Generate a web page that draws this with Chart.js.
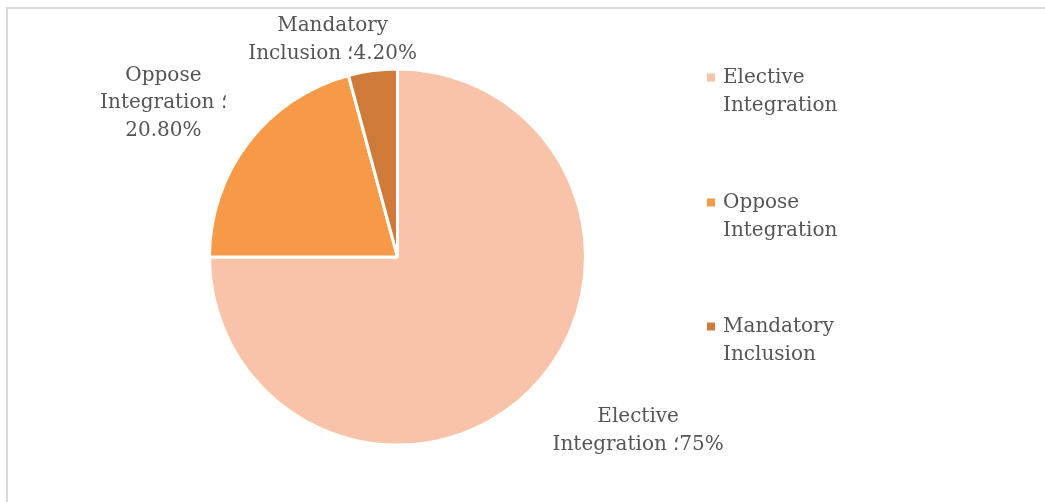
<!DOCTYPE html>
<html lang="en">
<head>
    <meta charset="UTF-8">
    <title>Integration Preference</title>
    <script src="https://cdn.jsdelivr.net/npm/chart.js"></script>
    <style>
        html, body { margin: 0; padding: 0; background: #fff; overflow: hidden; }
        .frame {
            position: absolute; left: 6px; top: 7px; width: 1100px; height: 600px;
            border-left: 2px solid #d9d9d9; border-top: 2px solid #d9d9d9;
        }
        #wrap { position: absolute; left: 0; top: 0; width: 1045px; height: 502px; }
    </style>
</head>
<body>
    <div class="frame"></div>
    <div id="wrap"><canvas id="pieChart"></canvas></div>

    <script>
        const categories = ['Elective Integration', 'Oppose Integration', 'Mandatory Inclusion'];
        const legendLines = [['Elective', 'Integration'], ['Oppose', 'Integration'], ['Mandatory', 'Inclusion']];
        const shares = [75, 20.8, 4.2];
        const sliceColors = ['#F8C3A8', '#F79A48', '#D07A39'];
        // value sits on its own line for the second label
        const valueOwnLine = [false, true, false];
        // label centre, in units of the pie radius from its centre
        const labelOffsets = [[1.28, 0.925], [-1.245, -0.82], [-0.345, -1.155]];

        const FONT = '20px "DejaVu Serif", serif';
        const TEXT = '#555555';
        const LINE_H = 27.5;

        function fmt(v) {
            return Number.isInteger(v) ? v + '%' : v.toFixed(2) + '%';
        }

        function labelText(i) {
            const lines = legendLines[i].slice();
            const sep = '\u061B\u200E';
            if (valueOwnLine[i]) {
                lines[lines.length - 1] += ' ' + sep;
                lines.push(fmt(shares[i]));
            } else {
                lines[lines.length - 1] += ' ' + sep + fmt(shares[i]);
            }
            return lines;
        }

        const outsideLabels = {
            id: 'outsideLabels',
            afterDraw(chart) {
                const ctx = chart.ctx;
                const arcs = chart.getDatasetMeta(0).data;
                ctx.save();
                ctx.font = FONT;
                ctx.fillStyle = TEXT;
                ctx.textAlign = 'center';
                ctx.textBaseline = 'middle';
                arcs.forEach((arc, i) => {
                    const r = arc.outerRadius;
                    const cx = arc.x + labelOffsets[i][0] * r;
                    const cy = arc.y + labelOffsets[i][1] * r;
                    const lines = labelText(i);
                    const y0 = cy - (lines.length - 1) * LINE_H / 2;
                    lines.forEach((t, k) => ctx.fillText(t, cx, y0 + k * LINE_H));
                });

                // legend on the right
                const lx = 723, tops = [78, 203, 327];
                ctx.textAlign = 'left';
                chart.data.labels.forEach((name, i) => {
                    ctx.fillStyle = sliceColors[i];
                    ctx.fillRect(lx - 16, tops[i] - 4.5, 8, 8);
                    ctx.fillStyle = TEXT;
                    legendLines[i].forEach((t, k) => ctx.fillText(t, lx, tops[i] + k * LINE_H));
                });
                ctx.restore();
            }
        };

        const ctx = document.getElementById('pieChart').getContext('2d');
        new Chart(ctx, {
            type: 'pie',
            data: {
                labels: categories,
                datasets: [{
                    data: shares,
                    backgroundColor: sliceColors,
                    borderColor: '#ffffff',
                    borderWidth: 3
                }]
            },
            options: {
                responsive: true,
                maintainAspectRatio: false,
                animation: false,
                layout: { padding: { left: 208, right: 458, top: 67.5, bottom: 55.5 } },
                plugins: {
                    legend: { display: false },
                    tooltip: { enabled: false }
                }
            },
            plugins: [outsideLabels]
        });
    </script>
</body>
</html>
